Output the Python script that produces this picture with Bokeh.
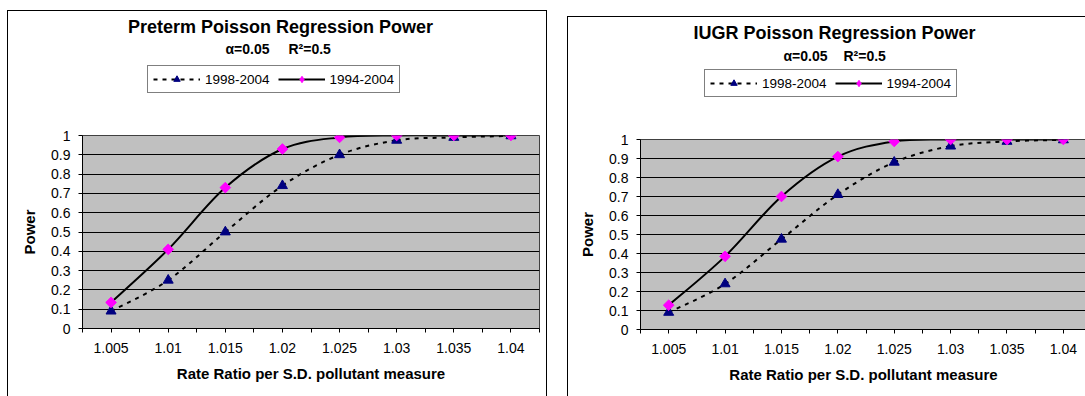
from bokeh.plotting import figure
from bokeh.models import FixedTicker, Label, Legend, LegendItem, Range1d
from bokeh.layouts import row, column
from bokeh.embed import file_html
from bokeh.resources import INLINE

# Rate ratio per S.D. of the pollutant measure (category axis)
rate_ratios = ["1.005", "1.01", "1.015", "1.02", "1.025", "1.03", "1.035", "1.04"]

# Power by study period
preterm_1998_2004 = [0.09, 0.25, 0.50, 0.74, 0.90, 0.975, 0.99, 0.998]
preterm_1994_2004 = [0.135, 0.41, 0.73, 0.93, 0.99, 1.0, 1.0, 1.0]
iugr_1998_2004 = [0.09, 0.24, 0.475, 0.71, 0.88, 0.965, 0.99, 0.998]
iugr_1994_2004 = [0.128, 0.385, 0.70, 0.91, 0.99, 1.0, 1.0, 1.0]

power_ticks = [0, 0.1, 0.2, 0.3, 0.4, 0.5, 0.6, 0.7, 0.8, 0.9, 1]
series_names = ["1998-2004", "1994-2004"]

FONT = "Liberation Sans"
PANEL_BG = "#C0C0C0"
TRI_COLOR = "#000080"
DIA_COLOR = "#FF00FF"
BORDER = "1px solid black"

SHORT_LINE = dict(line_color="black", line_width=2, line_dash="4 5")
LONG_LINE = dict(line_color="black", line_width=2)
TRI_MARK = dict(marker="triangle", size=10, fill_color=TRI_COLOR, line_color=TRI_COLOR)
DIA_MARK = dict(marker="square", angle=0.785398, size=7.5,
                fill_color=DIA_COLOR, line_color=DIA_COLOR)
DIA_KEY = dict(marker="diamond", size=10, fill_color=DIA_COLOR, line_color=DIA_COLOR)


def smooth_segments(xs, ys):
    """Cubic Bezier pieces through the points (spreadsheet-style smoothed line)."""
    n = len(xs)
    seg = dict(x0=[], y0=[], x1=[], y1=[], cx0=[], cy0=[], cx1=[], cy1=[])
    for i in range(n - 1):
        a = i - 1 if i > 0 else i
        b = i + 2 if i + 2 < n else i + 1
        seg["x0"].append(xs[i]); seg["y0"].append(ys[i])
        seg["x1"].append(xs[i + 1]); seg["y1"].append(ys[i + 1])
        seg["cx0"].append(xs[i] + (xs[i + 1] - xs[a]) / 6)
        seg["cy0"].append(ys[i] + (ys[i + 1] - ys[a]) / 6)
        seg["cx1"].append(xs[i + 1] - (xs[b] - xs[i]) / 6)
        seg["cy1"].append(ys[i + 1] - (ys[b] - ys[i]) / 6)
    return seg


def make_header(title, cfg):
    """Title, subtitle and legend strip drawn above a chart.

    The header's frame lines up with the chart frame below it, so its x range
    is set so that one data unit is one pixel of the whole header canvas."""
    w, h = cfg["width"], cfg["header_h"]
    hd = figure(width=w, height=h,
                x_range=Range1d(cfg["bl"], w - cfg["br"]), y_range=Range1d(h, 0),
                x_axis_location=None, y_axis_location=None,
                output_backend="svg", toolbar_location=None,
                min_border_left=cfg["bl"], min_border_right=cfg["br"],
                min_border_top=0, min_border_bottom=0)
    hd.grid.visible = False
    hd.outline_line_color = None
    hd.background_fill_color = "white"
    hd.border_fill_color = "white"
    hd.margin = cfg["header_margin"]
    hd.styles = cfg["header_styles"]

    tx, ty = cfg["title_xy"]
    hd.add_layout(Label(x=tx, y=ty, text=title, text_font=FONT, text_font_size="18px",
                        text_font_style="bold", text_align="center",
                        text_baseline="alphabetic", text_color="black"))
    ax_, ay_ = cfg["alpha_xy"]
    hd.add_layout(Label(x=ax_, y=ay_, text="α=0.05", text_font=FONT,
                        text_font_size="14px", text_font_style="bold",
                        text_align="right", text_baseline="alphabetic",
                        text_color="black"))
    rx, ry = cfg["r2_xy"]
    hd.add_layout(Label(x=rx, y=ry, text="R²=0.5", text_font=FONT,
                        text_font_size="14px", text_font_style="bold",
                        text_align="left", text_baseline="alphabetic",
                        text_color="black"))

    # legend keys styled like the series in the chart below (kept off-canvas)
    off = [-1000]
    l1 = hd.line(off, off, **SHORT_LINE)
    m1 = hd.scatter(off, off, **TRI_MARK)
    l2 = hd.line(off, off, **LONG_LINE)
    m2 = hd.scatter(off, off, **DIA_KEY)
    legend = Legend(
        items=[LegendItem(label=series_names[0], renderers=[l1, m1]),
               LegendItem(label=series_names[1], renderers=[l2, m2])],
        location=cfg["legend_loc"], orientation="horizontal",
        border_line_color="black", border_line_width=1,
        background_fill_color="white", background_fill_alpha=1,
        label_text_font=FONT, label_text_font_size="13.5px",
        label_text_color="black",
        glyph_width=47, glyph_height=16, label_height=16,
        label_standoff=5, spacing=8, padding=5, margin=0,
    )
    hd.add_layout(legend, "center")
    return hd


def make_chart(s_short, s_long, cfg):
    xs = list(range(1, len(rate_ratios) + 1))
    p = figure(
        width=cfg["width"], height=cfg["chart_h"],
        x_range=Range1d(0.5, cfg["x_end"]), y_range=Range1d(0, 1),
        output_backend="svg", toolbar_location=None,
        min_border_left=cfg["bl"], min_border_right=cfg["br"],
        min_border_top=cfg["bt"], min_border_bottom=cfg["bb"],
    )
    p.margin = cfg["chart_margin"]
    p.styles = cfg["chart_styles"]
    p.background_fill_color = PANEL_BG
    p.border_fill_color = "white"
    p.outline_line_color = "#404040"

    # horizontal gridlines only
    p.xgrid.visible = False
    p.ygrid.ticker = FixedTicker(ticks=power_ticks)
    p.ygrid.grid_line_color = "black"
    p.ygrid.grid_line_width = 1

    # x axis: labels at category centres, tick marks at centres and boundaries
    xa = p.xaxis[0]
    xa.ticker = FixedTicker(ticks=xs, minor_ticks=[x - 0.5 for x in xs] + [xs[-1] + 0.5])
    xa.major_label_overrides = {x: lab for x, lab in zip(xs, rate_ratios)}
    xa.axis_label = "Rate Ratio per S.D. pollutant measure"
    xa.major_tick_out = 4
    xa.major_tick_in = 0
    xa.minor_tick_out = 4
    xa.minor_tick_in = 0
    xa.minor_tick_line_color = "black"
    xa.major_label_standoff = 10

    ya = p.yaxis[0]
    ya.ticker = FixedTicker(ticks=power_ticks)
    ya.major_label_overrides = {t: f"{t:g}" for t in power_ticks}
    ya.axis_label = "Power"
    ya.major_tick_out = 4
    ya.major_tick_in = 0
    ya.minor_tick_line_color = None
    ya.major_label_standoff = 8
    ya.axis_label_standoff = 10

    for ax in (xa, ya):
        ax.axis_line_color = "black"
        ax.major_tick_line_color = "black"
        ax.major_label_text_font = FONT
        ax.major_label_text_font_size = "14px"
        ax.major_label_text_color = "black"
        ax.axis_label_text_font = FONT
        ax.axis_label_text_font_size = "15px"
        ax.axis_label_text_font_style = "bold"
        ax.axis_label_text_color = "black"
    xa.axis_label_standoff = 9

    p.bezier(source=smooth_segments(xs, s_short), x0="x0", y0="y0", x1="x1", y1="y1",
             cx0="cx0", cy0="cy0", cx1="cx1", cy1="cy1", **SHORT_LINE)
    p.scatter(xs, s_short, **TRI_MARK)
    p.bezier(source=smooth_segments(xs, s_long), x0="x0", y0="y0", x1="x1", y1="y1",
             cx0="cx0", cy0="cy0", cx1="cx1", cy1="cy1", **LONG_LINE)
    p.scatter(xs, s_long, **DIA_MARK)
    return p


left_cfg = dict(
    width=540, header_h=100, chart_h=286, x_end=8.5,
    bl=74, br=9, bt=25, bb=68,
    header_margin=(10, 0, 0, 7), chart_margin=(0, 0, 0, 7),
    header_styles={"border-top": BORDER, "border-left": BORDER,
                   "border-right": BORDER, "box-sizing": "border-box"},
    chart_styles={"border-left": BORDER, "border-right": BORDER,
                  "box-sizing": "border-box"},
    legend_loc=(65, 18), title_xy=(272, 15.7), alpha_xy=(261, 37.3), r2_xy=(280, 37.3),
)
right_cfg = dict(
    width=518, header_h=100, chart_h=280, x_end=8.41,
    bl=72, br=0, bt=23, bb=67,
    header_margin=(16, 0, 0, 20), chart_margin=(0, 0, 0, 20),
    header_styles={"border-top": BORDER, "border-left": BORDER,
                   "box-sizing": "border-box"},
    chart_styles={"border-left": BORDER, "box-sizing": "border-box"},
    legend_loc=(64, 20), title_xy=(266, 15.7), alpha_xy=(259, 38), r2_xy=(275, 38),
)

left = column(make_header("Preterm Poisson Regression Power", left_cfg),
              make_chart(preterm_1998_2004, preterm_1994_2004, left_cfg))
right = column(make_header("IUGR Poisson Regression Power", right_cfg),
               make_chart(iugr_1998_2004, iugr_1994_2004, right_cfg))

layout = row(left, right)
open("out.html", "w").write(file_html(layout, INLINE))
